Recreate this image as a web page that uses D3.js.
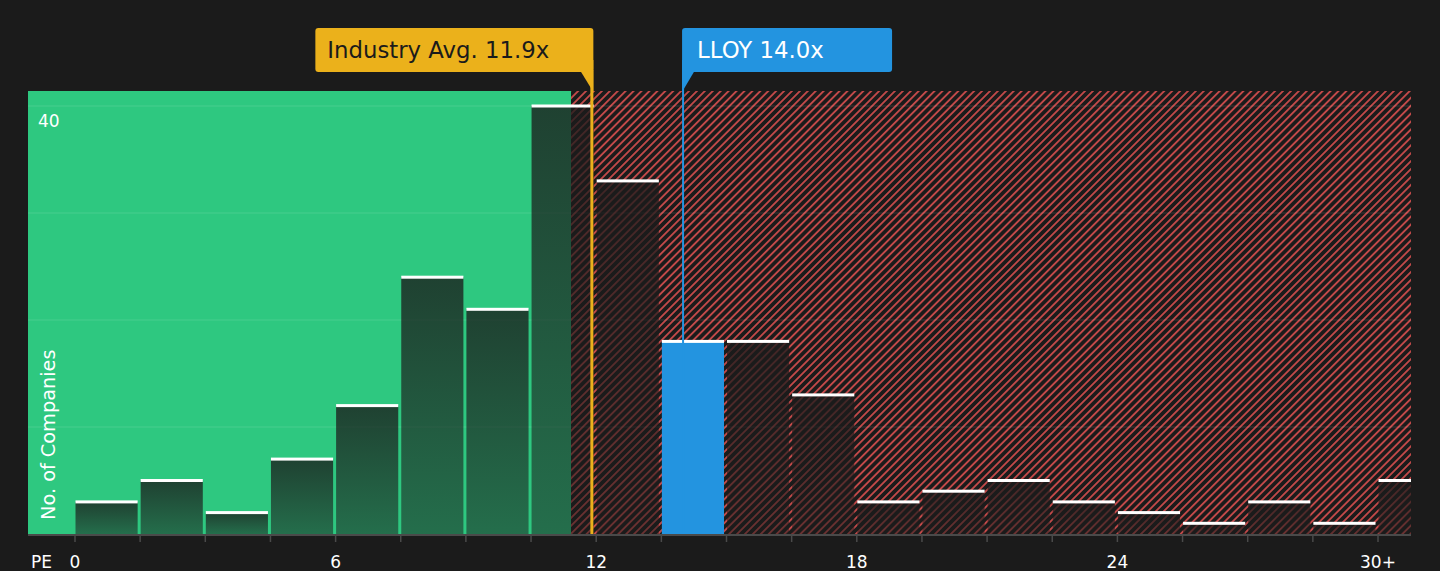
<!DOCTYPE html>
<html lang="en">

<head>
    <meta charset="UTF-8">
    <title>PE distribution</title>
    <style>
    html, body {
        margin: 0;
        padding: 0;
        background: #1b1b1b;
    }

    svg {
        display: block;
        font-family: "DejaVu Sans", sans-serif;
    }

    .axis text {
        fill: #fff;
        font-size: 17px;
    }
    </style>
</head>

<body>
    <div id="chart"></div>
    <script src="https://d3js.org/d3.v7.min.js"></script>
    <script>
    // bins of PE (width 1.5), last one is "30+"
    var binStart = [0, 1.5, 3, 4.5, 6, 7.5, 9, 10.5, 12, 13.5, 15, 16.5, 18, 19.5, 21, 22.5, 24, 25.5, 27, 28.5, 30];
    var counts = [3, 5, 2, 7, 12, 24, 21, 40, 33, 18, 18, 13, 3, 4, 5, 3, 2, 1, 3, 1, 5];
    var xTicks = [0, 6, 12, 18, 24, 30];
    var xTickLabels = ['0', '6', '12', '18', '24', '30+'];
    var yTicks = [10, 20, 30, 40];
    var binWidth = 1.5;
    var industryAvg = 11.9;
    var companyPE = 14.0;
    var companyName = 'LLOY';
    var fairUpper = 11.42; // end of green zone

    var width = 1440;
    var height = 571;
    var plot = { left: 28, right: 1411, top: 91, bottom: 534 };

    var svg = d3.select('#chart').append('svg').attr('width', width).attr('height', height);

    var xScale = d3.scaleLinear().domain([0, 30]).range([75, 1378]);
    var yScale = d3.scaleLinear().domain([0, 40]).range([plot.bottom, 106]);

    var defs = svg.append('defs');
    // hatch
    var hp = 5.6;
    var pat = defs.append('pattern')
        .attr('id', 'hatch')
        .attr('patternUnits', 'userSpaceOnUse')
        .attr('width', hp)
        .attr('height', hp)
        .attr('patternTransform', 'rotate(45)');
    pat.append('rect').attr('width', hp).attr('height', hp).attr('fill', '#1b1b1b');
    pat.append('line')
        .attr('x1', hp / 2).attr('y1', 0).attr('x2', hp / 2).attr('y2', hp)
        .attr('stroke', '#d24d4d')
        .attr('stroke-width', 1.7);
    // bar shading
    var grad = defs.append('linearGradient')
        .attr('id', 'barGrad')
        .attr('x1', 0).attr('y1', 0).attr('x2', 0).attr('y2', 1);
    grad.append('stop').attr('offset', '0%').attr('stop-color', '#1b1b1b').attr('stop-opacity', 0.78);
    grad.append('stop').attr('offset', '100%').attr('stop-color', '#1b1b1b').attr('stop-opacity', 0.52);
    defs.append('clipPath').attr('id', 'plotClip')
        .append('rect')
        .attr('x', plot.left).attr('y', plot.top)
        .attr('width', plot.right - plot.left)
        .attr('height', plot.bottom - plot.top);

    // zones
    svg.append('rect')
        .attr('x', plot.left)
        .attr('y', plot.top)
        .attr('width', xScale(fairUpper) - plot.left)
        .attr('height', plot.bottom - plot.top)
        .attr('fill', '#2ec880');
    svg.append('rect')
        .attr('x', xScale(fairUpper))
        .attr('y', plot.top)
        .attr('width', plot.right - xScale(fairUpper))
        .attr('height', plot.bottom - plot.top)
        .attr('fill', 'url(#hatch)');

    // grid
    svg.append('g')
        .selectAll('line')
        .data(yTicks)
        .enter()
        .append('line')
        .attr('x1', plot.left)
        .attr('x2', plot.right)
        .attr('y1', function(d) { return yScale(d); })
        .attr('y2', function(d) { return yScale(d); })
        .attr('stroke', '#fff')
        .attr('stroke-opacity', 0.12);

    // bars
    var bars = svg.append('g').attr('clip-path', 'url(#plotClip)');
    bars.selectAll('rect.bar')
        .data(counts)
        .enter()
        .append('rect')
        .attr('class', 'bar')
        .attr('x', function(d, i) { return xScale(binStart[i]) + 0.5; })
        .attr('y', function(d) { return yScale(d); })
        .attr('width', function(d, i) { return xScale(binStart[i] + binWidth) - xScale(binStart[i]) - 3; })
        .attr('height', function(d) { return plot.bottom - yScale(d); })
        .attr('fill', function(d, i) {
            return (companyPE >= binStart[i] && companyPE < binStart[i] + binWidth) ? '#2394e0' : 'url(#barGrad)';
        });
    bars.selectAll('rect.cap')
        .data(counts)
        .enter()
        .append('rect')
        .attr('class', 'cap')
        .attr('x', function(d, i) { return xScale(binStart[i]) + 0.5; })
        .attr('y', function(d) { return yScale(d) - 1.5; })
        .attr('width', function(d, i) { return xScale(binStart[i] + binWidth) - xScale(binStart[i]) - 3; })
        .attr('height', 3)
        .attr('fill', '#fff');

    // x axis
    var axis = svg.append('g').attr('class', 'axis');
    axis.append('line')
        .attr('x1', plot.left).attr('x2', plot.right)
        .attr('y1', plot.bottom + 1).attr('y2', plot.bottom + 1)
        .attr('stroke', '#4a4a4a')
        .attr('stroke-width', 2);
    axis.selectAll('line.tick')
        .data(binStart)
        .enter()
        .append('line')
        .attr('class', 'tick')
        .attr('x1', function(d) { return xScale(d); })
        .attr('x2', function(d) { return xScale(d); })
        .attr('y1', plot.bottom + 1)
        .attr('y2', plot.bottom + 8)
        .attr('stroke', '#4a4a4a')
        .attr('stroke-width', 1.5);
    axis.selectAll('text.lbl')
        .data(xTicks)
        .enter()
        .append('text')
        .attr('class', 'lbl')
        .attr('x', function(d) { return xScale(d); })
        .attr('y', 568)
        .attr('text-anchor', 'middle')
        .text(function(d, i) { return xTickLabels[i]; });
    axis.append('text')
        .attr('x', 31)
        .attr('y', 568)
        .text('PE');

    // y labels
    svg.append('text')
        .attr('x', 38)
        .attr('y', yScale(40) + 21)
        .attr('fill', '#fff')
        .attr('font-size', 17)
        .text('40');
    svg.append('text')
        .attr('transform', 'translate(55,520) rotate(-90)')
        .attr('fill', '#fff')
        .attr('font-size', 19.3)
        .text('No. of Companies');

    // markers
    function marker(value, color, textColor, label, side, boxW) {
        var x = xScale(value);
        var g = svg.append('g');
        g.append('line')
            .attr('x1', x).attr('x2', x)
            .attr('y1', 60).attr('y2', plot.bottom)
            .attr('stroke', color)
            .attr('stroke-width', side === 'left' ? 3 : 2);
        var bx = side === 'left' ? x + 1.5 - boxW : x - 1;
        g.append('rect')
            .attr('x', bx).attr('y', 28)
            .attr('width', boxW).attr('height', 44)
            .attr('rx', 3)
            .attr('fill', color);
        var tail = side === 'left'
            ? [[x + 1.5, 70], [x + 1.5, 92], [x - 12, 70]]
            : [[x - 1, 70], [x - 1, 92], [x + 12, 70]];
        g.append('path')
            .attr('d', d3.line()(tail) + 'Z')
            .attr('fill', color);
        g.append('text')
            .attr('x', bx + (side === 'left' ? 12 : 15))
            .attr('y', 58)
            .attr('fill', textColor)
            .attr('font-size', 22.8)
            .text(label);
    }
    marker(industryAvg, '#ebb11b', '#1b1b1b', 'Industry Avg. ' + industryAvg.toFixed(1) + 'x', 'left', 278);
    marker(companyPE, '#2394e0', '#fff', companyName + ' ' + companyPE.toFixed(1) + 'x', 'right', 210);
    </script>
</body>

</html>
